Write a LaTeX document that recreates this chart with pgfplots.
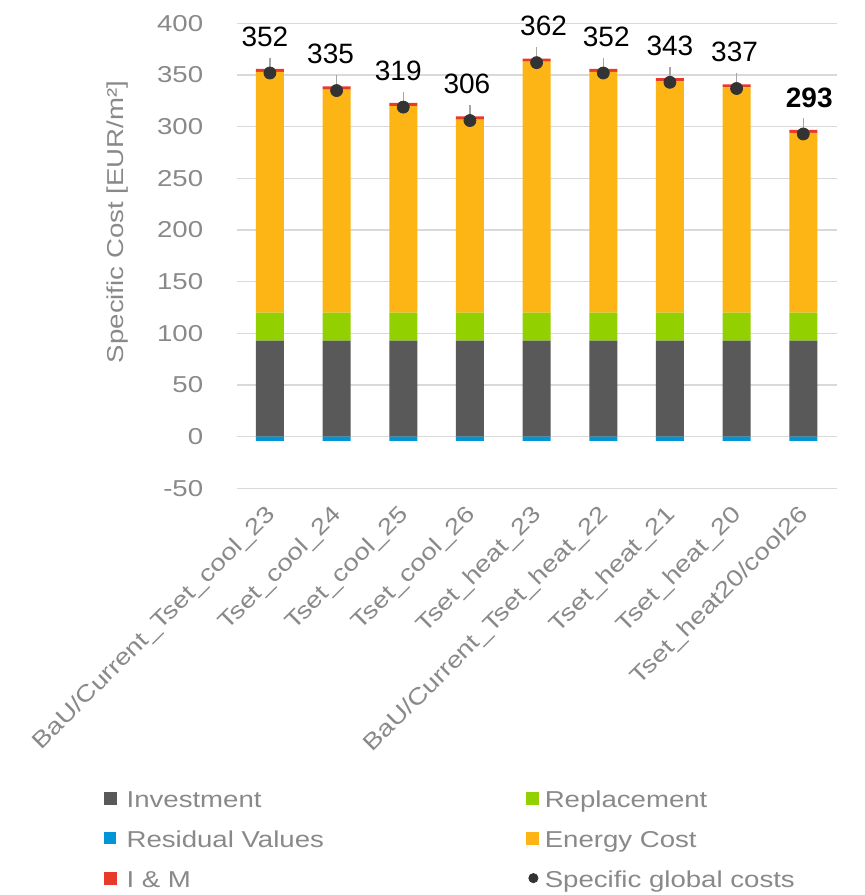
\documentclass[border=0pt]{standalone}
\usepackage{fontspec}
\setmainfont{Liberation Sans}
\newfontfamily\gfont[FakeStretch=1.2]{Liberation Sans}
\usepackage{pgfplots}
\pgfplotsset{compat=1.18}
\usepackage{pgfplotstable}

\definecolor{txtgray}{HTML}{898989}
\definecolor{gridcol}{HTML}{D9D9D9}
\definecolor{invcol}{HTML}{595959}
\definecolor{repcol}{HTML}{92D000}
\definecolor{rescol}{HTML}{0095D6}
\definecolor{encol}{HTML}{FDB515}
\definecolor{imcol}{HTML}{E8392B}
\definecolor{dotcol}{HTML}{333333}
\definecolor{leadcol}{HTML}{A6A6A6}

% costs per scenario, EUR/m2 (dx = label offset in bp)
\pgfplotstableread{
x inv rep energy im res total err dx lbl
0 93 27 233 3 -4 352 15 -2.5 352
1 93 27 216 3 -4 335 15 -3 335
2 93 27 200 3 -4 319 15 -2.5 319
3 93 27 187 3 -4 306 15 -1.5 306
4 93 27 243 3 -4 362 15 3.5 362
5 93 27 233 3 -4 352 15 1.5 352
6 93 27 224 3 -4 343 15 0 343
7 93 27 218 3 -4 337 15 -1 337
8 93 27 174 3 -4 293 15 3 \textbf{293}
}\costs

\pgfplotsset{
  base/.style={
    scale only axis, width=300bp, height=232.5bp,
    xmin=-0.5, xmax=8.5, ymin=-50, ymax=400,
    bar width=14bp,
  },
  sq/.style={legend image code/.code={\fill[##1] (0bp,-1.5bp) rectangle (6bp,4.5bp);}},
}

\begin{document}
\begin{tikzpicture}
\begin{axis}[
  base, name=main,
  ybar stacked,
  axis line style={draw=none},
  tick style={draw=none}, major tick length=0pt,
  ymajorgrids, grid style={gridcol, line width=0.6bp},
  ytick={-50,0,...,400},
  /pgf/number format/assume math mode=true,
  yticklabel style={text=txtgray, font=\gfont\fontsize{11.5bp}{13bp}\selectfont, inner sep=0pt, xshift=-16.5bp},
  xtick={0,...,8},
  xticklabels={BaU/Current\_Tset\_cool\_23, Tset\_cool\_24, Tset\_cool\_25, Tset\_cool\_26,
    Tset\_heat\_23, BaU/Current\_Tset\_heat\_22, Tset\_heat\_21, Tset\_heat\_20, Tset\_heat20/cool26},
  xticklabel style={text=txtgray, font=\gfont\fontsize{11.5bp}{13bp}\selectfont, inner sep=0pt, xshift=1bp, yshift=-11.5bp, rotate=45, anchor=east},
  ylabel={Specific Cost [EUR/m²]},
  ylabel style={text=txtgray, font=\gfont\fontsize{11.5bp}{13bp}\selectfont, at={(axis description cs:-0.198,0.573)}, anchor=center},
]
\addplot[fill=invcol, draw=none] table[x=x, y=inv] {\costs};
\addplot[fill=repcol, draw=none] table[x=x, y=rep] {\costs};
\addplot[fill=encol, draw=none] table[x=x, y=energy] {\costs};
\addplot[fill=imcol, draw=none] table[x=x, y=im] {\costs};
\end{axis}

\begin{axis}[
  base, hide axis,
  legend columns=2,
  legend cell align=left,
  legend style={at={(axis description cs:-0.222,-0.648)}, anchor=north west,
    draw=none, fill=none, inner sep=0pt, row sep=9bp,
    font=\gfont\fontsize{11.5bp}{13bp}\selectfont, text=txtgray,
    nodes={text height=8.5bp, text depth=2.5bp, inner sep=0pt},
    /tikz/column 1/.style={column sep=5bp},
    /tikz/column 2/.style={column sep=101bp},
    /tikz/column 3/.style={column sep=3bp}},
]
\addlegendimage{sq, invcol}
\addlegendentry{Investment}
\addlegendimage{sq, repcol}
\addlegendentry{Replacement}
\addplot[ybar, bar width=14bp, bar shift=0pt, fill=rescol, draw=none, sq] table[x=x, y=res] {\costs};
\addlegendentry{Residual Values}
\addlegendimage{sq, encol}
\addlegendentry{Energy Cost}
\addlegendimage{sq, imcol}
\addlegendentry{I \& M}
\addplot[draw=none, mark=none, forget plot,
  error bars/.cd, y dir=plus, y explicit, error mark=none,
  error bar style={draw=leadcol, line width=0.7bp, solid}]
  table[x=x, y=total, y error=err] {\costs};
\addplot[only marks, mark=*, mark size=3bp, dotcol,
  legend image code/.code={\fill[dotcol] (3.5bp,1.5bp) circle (2.3bp);},
  point meta=explicit symbolic,
  visualization depends on={\thisrow{dx} \as \ldx},
  nodes near coords={\pgfplotspointmeta},
  every node near coord/.style={anchor=south, inner sep=0pt, yshift=13bp, xshift=\ldx bp,
    font=\fontsize{14bp}{16bp}\selectfont, text=black}]
  table[x=x, y=total, meta=lbl] {\costs};
\addlegendentry{Specific global costs}
\end{axis}
\pgfresetboundingbox
\path[use as bounding box] ([xshift=-118.3bp, yshift=-203.3bp]main.south west) rectangle ++(432.5bp, 447.5bp);
\end{tikzpicture}
\end{document}
